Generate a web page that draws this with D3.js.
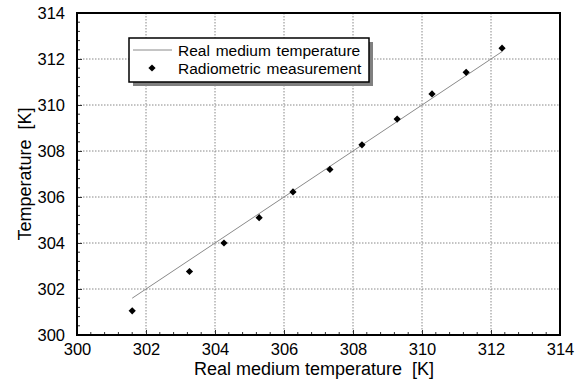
<!DOCTYPE html>
<html>
<head>
<meta charset="utf-8">
<script src="https://cdn.jsdelivr.net/npm/d3@7"></script>
<style>
  body { margin: 0; background: #fff; }
  text { font-family: Arial, "Liberation Sans", sans-serif; }
</style>
</head>
<body>
<svg id="chart" width="585" height="381"></svg>
<script>
// Real medium temperature (x) and the radiometric reading (y)
const realTemp = [301.6, 303.26, 304.26, 305.28, 306.26, 307.33, 308.26, 309.28, 310.29, 311.28, 312.32];
const measured = [301.05, 302.76, 304.0, 305.1, 306.22, 307.2, 308.27, 309.39, 310.48, 311.42, 312.47];
const majorTicks = [300, 302, 304, 306, 308, 310, 312, 314];
const legendLabels = ['Real medium temperature', 'Radiometric measurement'];

const svg = d3.select('#chart');
const margin = { left: 77, top: 13, right: 25, bottom: 46 };
const width = 585 - margin.left - margin.right;
const height = 381 - margin.top - margin.bottom;

const x = d3.scaleLinear().domain([300, 314]).range([0, width]);
const y = d3.scaleLinear().domain([300, 314]).range([height, 0]);

const g = svg.append('g').attr('transform', `translate(${margin.left},${margin.top})`);

// dotted grid at the major ticks
g.append('g').selectAll('line')
  .data(majorTicks.slice(1, -1))
  .join('line')
  .attr('x1', d => x(d)).attr('x2', d => x(d))
  .attr('y1', 0).attr('y2', height)
  .attr('stroke', '#888').attr('stroke-dasharray', '1.5,1.5');
g.append('g').selectAll('line')
  .data(majorTicks.slice(1, -1))
  .join('line')
  .attr('y1', d => y(d)).attr('y2', d => y(d))
  .attr('x1', 0).attr('x2', width)
  .attr('stroke', '#888').attr('stroke-dasharray', '1.5,1.5');

// minor ticks every 0.4, drawn inward
const minor = d3.range(300, 314.001, 0.4).filter(v => Math.abs(v / 2 - Math.round(v / 2)) > 0.01);
const xAxis = d3.axisBottom(x).tickValues(majorTicks).tickSizeInner(-5).tickSizeOuter(0).tickPadding(8).tickFormat(d3.format('d'));
const yAxis = d3.axisLeft(y).tickValues(majorTicks).tickSizeInner(-5).tickSizeOuter(0).tickPadding(12).tickFormat(d3.format('d'));

const gx = g.append('g').attr('transform', `translate(0,${height})`).call(xAxis);
const gy = g.append('g').call(yAxis);
[gx, gy].forEach(a => {
  a.select('.domain').remove();
  a.selectAll('text').attr('font-size', 16.5).attr('fill', '#000')
    .style('font-family', 'Arial, "Liberation Sans", sans-serif');
  a.selectAll('line').attr('stroke', '#333');
});
gx.selectAll('.tick text').attr('dy', '0.71em');

g.append('g').selectAll('line').data(minor).join('line')
  .attr('x1', d => x(d)).attr('x2', d => x(d))
  .attr('y1', height).attr('y2', height - 3)
  .attr('stroke', '#333');
g.append('g').selectAll('line').data(minor).join('line')
  .attr('y1', d => y(d)).attr('y2', d => y(d))
  .attr('x1', 0).attr('x2', 3)
  .attr('stroke', '#333');

// frame
g.append('rect').attr('width', width).attr('height', height)
  .attr('fill', 'none').attr('stroke', '#000').attr('stroke-width', 2);

// reference line y = x
const line = d3.line().x(d => x(d)).y(d => y(d));
g.append('path').datum([realTemp[0], realTemp[realTemp.length - 1]])
  .attr('d', line).attr('fill', 'none').attr('stroke', '#8a8a8a').attr('stroke-width', 1);

// measurement markers: square turned 45 degrees
const marker = d3.symbol().type(d3.symbolSquare).size(26);
g.append('g').selectAll('path')
  .data(realTemp.map((v, i) => [v, measured[i]]))
  .join('path')
  .attr('d', marker)
  .attr('transform', d => `translate(${x(d[0])},${y(d[1])}) rotate(45)`)
  .attr('fill', '#000');

// axis titles
svg.append('text')
  .attr('x', 314).attr('y', 375)
  .attr('text-anchor', 'middle').attr('font-size', 18)
  .text('Real medium temperature\u00a0\u00a0[K]');
svg.append('text')
  .attr('transform', 'translate(31,174) rotate(-90)')
  .attr('text-anchor', 'middle').attr('font-size', 18)
  .text('Temperature\u00a0\u00a0[K]');

// legend with drop shadow
const lg = svg.append('g').attr('transform', 'translate(129,38)');
lg.append('rect').attr('x', 4).attr('y', 4).attr('width', 240).attr('height', 44).attr('fill', '#808080');
lg.append('rect').attr('width', 240).attr('height', 44)
  .attr('fill', '#fff').attr('stroke', '#000').attr('stroke-width', 1.5);
lg.append('line').attr('x1', 4).attr('x2', 43).attr('y1', 12).attr('y2', 12)
  .attr('stroke', '#8a8a8a');
lg.append('path').attr('d', marker).attr('transform', 'translate(23,30) rotate(45)').attr('fill', '#000');
lg.selectAll('text.lab').data(legendLabels).join('text')
  .attr('class', 'lab')
  .attr('x', 49).attr('y', (d, i) => 17.5 + i * 18)
  .attr('font-size', 15.5)
  .attr('word-spacing', 1.5)
  .text(d => d);
</script>
</body>
</html>
